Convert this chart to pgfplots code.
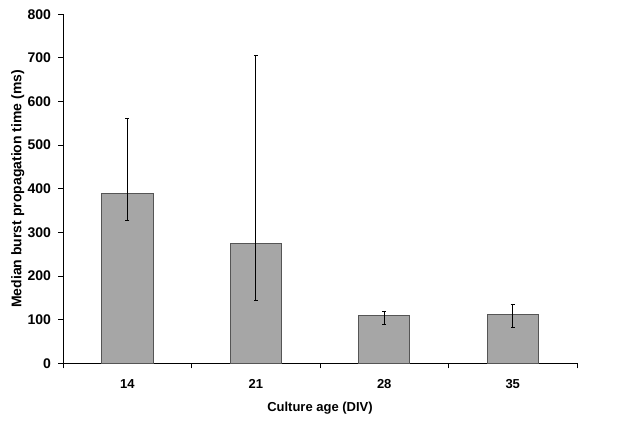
\documentclass[border=0pt]{standalone}
\usepackage{pgfplots}
\pgfplotsset{compat=1.18}
\usepackage{fontspec}
\setmainfont{Liberation Sans}
\definecolor{barfill}{HTML}{A6A6A6}
\definecolor{baredge}{HTML}{555555}
\begin{document}
\begin{tikzpicture}
\begin{axis}[
  scale only axis, width=514pt, height=349pt,
  clip=false,
  xmin=-0.5, xmax=3.5, ymin=0, ymax=800,
  axis x line*=bottom, axis y line*=left,
  axis line style={black, line width=0.9pt, -},
  ytick={0,100,...,800},
  xtick={0,1,2,3}, xticklabels={14,21,28,35},
  major x tick style={draw=none},
  minor xtick={-0.5,0.5,1.5,2.5,3.5},
  minor x tick style={black, line width=0.9pt},
  y tick style={black, line width=0.9pt},
  minor tick length=5pt, major tick length=5pt,
  tick align=outside,
  /pgf/number format/assume math mode=true,
  yticklabel style={font=\bfseries\fontsize{14}{16}\selectfont, xshift=-3.5pt},
  xticklabel style={font=\bfseries\fontsize{13}{15}\selectfont, yshift=-8pt},
  xlabel style={font=\bfseries\fontsize{13}{15}\selectfont, at={(axis description cs:0.5,-0.129)}, anchor=center},
  ylabel style={font=\bfseries\fontsize{14}{16}\selectfont, at={(axis description cs:-0.088,0.5)}, anchor=center},
  xlabel={Culture age (DIV)},
  ylabel={Median burst propagation time (ms)},
]
\addplot[ybar, bar width=0.4, fill=barfill, draw=baredge, line width=0.9pt,
  error bars/.cd, y dir=both, y explicit,
  error bar style={black, line width=1.1pt},
  error mark options={rotate=90, black, mark size=2pt, line width=1.1pt}]
coordinates {
  (0,390) += (0,171) -= (0,62)
  (1,275) += (0,431) -= (0,131)
  (2,109) += (0,9) -= (0,21)
  (3,112.5) += (0,22.5) -= (0,30.5)
};
\path (rel axis cs:-0.1226,-0.1719) rectangle (rel axis cs:1.1304,1.041);
\end{axis}
\end{tikzpicture}
\end{document}
